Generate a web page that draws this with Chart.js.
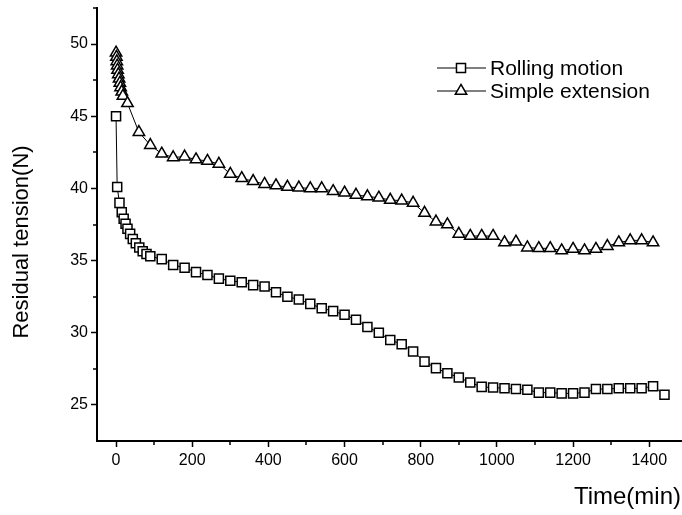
<!DOCTYPE html>
<html>
<head>
<meta charset="utf-8">
<script src="https://cdn.jsdelivr.net/npm/chart.js@4.4.1/dist/chart.umd.min.js"></script>
<style>
  html, body { margin: 0; padding: 0; background: #fff; overflow: hidden; }
  #wrap { width: 682px; height: 515px; position: relative; }
</style>
</head>
<body>
<div id="wrap"><canvas id="chart" width="682" height="515"></canvas></div>
<script>
// Residual tension over time for two loading modes
const seriesNames = ['Rolling motion', 'Simple extension'];
const xTitle = 'Time(min)';
const yTitle = 'Residual tension(N)';

const rollingTime = [0, 3, 9, 15, 20, 25, 30, 37, 44, 52, 61, 70, 80, 90,
  120, 150, 180, 210, 240, 270, 300, 330, 360, 390,
  420, 450, 480, 510, 540, 570, 600, 630, 660, 690,
  720, 750, 780, 810, 840, 870, 900, 930, 960, 990,
  1020, 1050, 1080, 1110, 1140, 1170, 1200, 1230, 1260, 1290,
  1320, 1350, 1380, 1410, 1440];
const rollingTension = [45.0, 40.1, 39.0, 38.35, 37.9, 37.55, 37.2, 36.85, 36.5, 36.2, 35.9, 35.65, 35.45, 35.3,
  35.1, 34.7, 34.5, 34.2, 34.0, 33.75, 33.6, 33.5, 33.3, 33.2,
  32.8, 32.5, 32.3, 32.0, 31.7, 31.5, 31.25, 30.9, 30.4, 30.0,
  29.5, 29.2, 28.7, 28.0, 27.55, 27.2, 26.9, 26.55, 26.25, 26.2,
  26.15, 26.1, 26.05, 25.85, 25.85, 25.8, 25.8, 25.85, 26.1, 26.1,
  26.15, 26.15, 26.15, 26.3, 25.7];

const extensionTime = [0, 1, 2, 3, 4, 6, 8, 10, 12, 15, 18,
  30, 60, 90, 120, 150, 180, 210, 240, 270, 300, 330, 360, 390,
  420, 450, 480, 510, 540, 570, 600, 630, 660, 690,
  720, 750, 780, 810, 840, 870, 900, 930, 960, 990,
  1020, 1050, 1080, 1110, 1140, 1170, 1200, 1230, 1260, 1290,
  1320, 1350, 1380, 1410];
const extensionTension = [49.4, 49.1, 48.8, 48.5, 48.2, 47.9, 47.6, 47.3, 47.0, 46.7, 46.4,
  45.9, 43.9, 43.0, 42.4, 42.15, 42.2, 42.0, 41.9, 41.7, 41.0, 40.7, 40.5, 40.3,
  40.2, 40.1, 40.05, 40.0, 40.0, 39.8, 39.7, 39.55, 39.45, 39.35,
  39.2, 39.15, 39.0, 38.3, 37.7, 37.5, 36.85, 36.7, 36.7, 36.7,
  36.25, 36.3, 35.9, 35.85, 35.85, 35.7, 35.8, 35.7, 35.8, 36.0,
  36.25, 36.4, 36.4, 36.25];

const xTicks = [0, 200, 400, 600, 800, 1000, 1200, 1400];
const xMinorTicks = [100, 300, 500, 700, 900, 1100, 1300];
const yTicks = [25, 30, 35, 40, 45, 50];
const yMinorTicks = [27.5, 32.5, 37.5, 42.5, 47.5, 52.5];

const FONT = "'Liberation Sans', Arial, Helvetica, sans-serif";
const toPoints = (xs, ys) => xs.map((x, i) => ({ x: x, y: ys[i] }));

const markers = [
  { style: 'rect', radius: 6.4 },
  { style: 'triangle', radius: 6.6 }
];

// Minor ticks, axis titles and the in-plot legend
const decorations = {
  id: 'decorations',
  afterDraw(chart) {
    const ctx = chart.ctx;
    const xs = chart.scales.x, ys = chart.scales.y;
    const area = chart.chartArea;
    ctx.save();
    ctx.strokeStyle = '#000';
    ctx.lineWidth = 1.5;
    ctx.beginPath();
    xMinorTicks.forEach(v => {
      const px = Math.round(xs.getPixelForValue(v));
      ctx.moveTo(px, area.bottom);
      ctx.lineTo(px, area.bottom + 4);
    });
    yMinorTicks.forEach(v => {
      const py = Math.round(ys.getPixelForValue(v));
      ctx.moveTo(area.left, py);
      ctx.lineTo(area.left - 4, py);
    });
    ctx.stroke();

    // axis titles
    ctx.fillStyle = '#000';
    ctx.font = '22px ' + FONT;
    ctx.textBaseline = 'middle';
    ctx.save();
    ctx.translate(22, 242);
    ctx.rotate(-Math.PI / 2);
    ctx.textAlign = 'center';
    ctx.fillText(yTitle, 0, 0);
    ctx.restore();
    ctx.font = '24px ' + FONT;
    ctx.textAlign = 'right';
    ctx.fillText(xTitle, 681, 497);

    // legend
    const rows = [68, 91];
    chart.data.datasets.forEach((ds, i) => {
      const y = rows[i];
      ctx.strokeStyle = '#000';
      ctx.lineWidth = 1;
      ctx.beginPath();
      ctx.moveTo(437, y);
      ctx.lineTo(486, y);
      ctx.stroke();
      ctx.fillStyle = '#fff';
      ctx.strokeStyle = '#000';
      ctx.lineWidth = 1.5;
      Chart.helpers.drawPoint(ctx, {
        pointStyle: markers[i].style, radius: markers[i].radius, rotation: 0, borderWidth: 1.5
      }, 461, y);
      ctx.fillStyle = '#000';
      ctx.font = '21px ' + FONT;
      ctx.textAlign = 'left';
      ctx.textBaseline = 'middle';
      ctx.fillText(ds.label, 490, y + 1);
    });
    ctx.restore();
  }
};

const makeDataset = (i, xs, ys, order) => ({
  label: seriesNames[i],
  data: toPoints(xs, ys),
  showLine: true,
  borderColor: '#000',
  borderWidth: 1,
  pointStyle: markers[i].style,
  pointRadius: markers[i].radius,
  pointHoverRadius: markers[i].radius,
  pointBorderWidth: 1.5,
  pointBorderColor: '#000',
  pointBackgroundColor: '#fff',
  tension: 0,
  order: order,
  clip: false
});

const plainNumber = v => String(v);

new Chart(document.getElementById('chart'), {
  type: 'scatter',
  data: {
    datasets: [
      makeDataset(0, rollingTime, rollingTension, 1),
      makeDataset(1, extensionTime, extensionTension, 0)
    ]
  },
  options: {
    responsive: false,
    animation: false,
    devicePixelRatio: 1,
    layout: { autoPadding: false, padding: { top: 8, right: 0, left: 0, bottom: 0 } },
    plugins: { legend: { display: false }, tooltip: { enabled: false } },
    scales: {
      x: {
        type: 'linear',
        position: 'bottom',
        min: -50,
        max: 1486,
        afterBuildTicks: s => { s.ticks = xTicks.map(v => ({ value: v })); },
        afterFit: s => { s.height = 74; s.paddingLeft = 0; s.paddingRight = 0; },
        grid: { drawOnChartArea: false, drawTicks: true, tickLength: 6, tickWidth: 1.5, tickColor: '#000' },
        border: { display: true, color: '#000', width: 2 },
        ticks: { color: '#000', font: { family: FONT, size: 16 }, padding: 4, maxRotation: 0, autoSkip: false, callback: plainNumber }
      },
      y: {
        type: 'linear',
        position: 'left',
        min: 22.5,
        max: 52.5,
        afterBuildTicks: s => { s.ticks = yTicks.map(v => ({ value: v })); },
        afterFit: s => { s.width = 97; s.paddingTop = 0; s.paddingBottom = 0; },
        grid: { drawOnChartArea: false, drawTicks: true, tickLength: 6, tickWidth: 1.5, tickColor: '#000' },
        border: { display: true, color: '#000', width: 2 },
        ticks: { color: '#000', font: { family: FONT, size: 16 }, padding: 3, callback: plainNumber }
      }
    }
  },
  plugins: [decorations]
});
</script>
</body>
</html>
